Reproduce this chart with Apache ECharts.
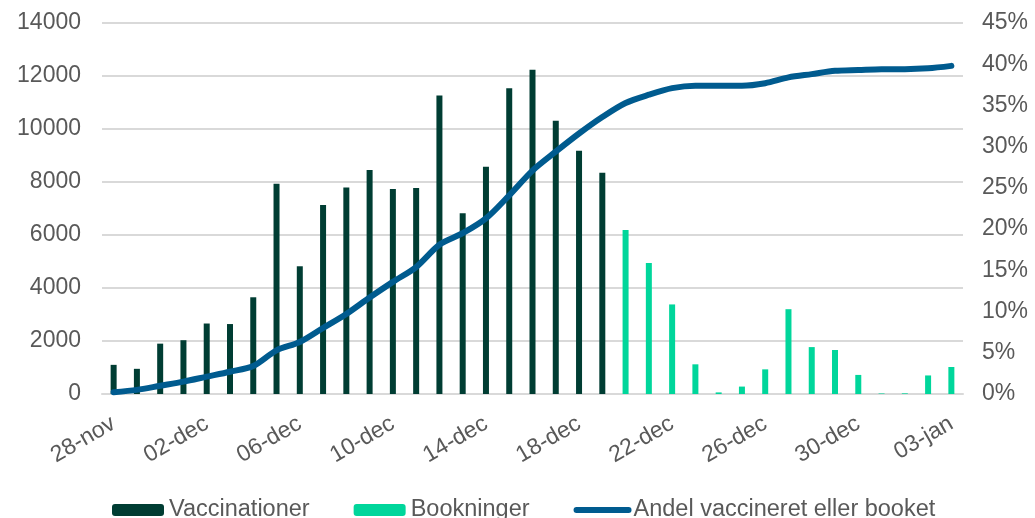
<!DOCTYPE html>
<html>
<head>
    <meta charset="utf-8">
    <title>Vaccinationer</title>
    <script src="https://cdn.jsdelivr.net/npm/echarts@6/dist/echarts.min.js"></script>
</head>
<body style="margin:0">
<div id="main" style="width:1035px;height:518px;"></div>
<script type="text/javascript">
    // dates 28-nov .. 03-jan
    var dates = ['28-nov', '29-nov', '30-nov', '01-dec', '02-dec', '03-dec', '04-dec', '05-dec', '06-dec', '07-dec',
        '08-dec', '09-dec', '10-dec', '11-dec', '12-dec', '13-dec', '14-dec', '15-dec', '16-dec', '17-dec',
        '18-dec', '19-dec', '20-dec', '21-dec', '22-dec', '23-dec', '24-dec', '25-dec', '26-dec', '27-dec',
        '28-dec', '29-dec', '30-dec', '31-dec', '01-jan', '02-jan', '03-jan']

    var vaccinationer = [1100, 950, 1900, 2030, 2660, 2640, 3650, 7930, 4820, 7130,
        7790, 8450, 7740, 7770, 11260, 6820, 8580, 11540, 12240, 10310,
        9180, 8350, null, null, null, null, null, null, null, null,
        null, null, null, null, null, null, null]

    var bookninger = [null, null, null, null, null, null, null, null, null, null,
        null, null, null, null, null, null, null, null, null, null,
        null, null, 6190, 4940, 3380, 1120, 60, 280, 930, 3200,
        1770, 1660, 720, 20, 25, 700, 1020]

    // percent
    var andel = [0.2, 0.5, 1.0, 1.5, 2.1, 2.7, 3.4, 5.3, 6.3, 8.0,
        9.7, 11.7, 13.6, 15.4, 18.1, 19.5, 21.3, 24.1, 27.1, 29.4,
        31.6, 33.6, 35.3, 36.3, 37.1, 37.4, 37.4, 37.4, 37.7, 38.4,
        38.8, 39.2, 39.3, 39.4, 39.4, 39.5, 39.8]

    var txt = '#595959'
    var font = 'Liberation Sans'

    var myChart = echarts.init(document.getElementById('main'));
    var option = {
        animation: false,
        textStyle: {fontFamily: font},
        grid: {left: 102, right: 72, top: 23, bottom: 124},
        legend: {
            top: 493,
            left: 107,
            itemWidth: 52,
            itemHeight: 12,
            itemGap: 44,
            textStyle: {fontSize: 23.5, color: txt, fontFamily: font},
            data: ['Vaccinationer', 'Bookninger', {
                name: 'Andel vaccineret eller booket',
                itemStyle: {opacity: 0},
                lineStyle: {width: 6, cap: 'round'}
            }]
        },
        xAxis: {
            type: 'category',
            data: dates,
            boundaryGap: true,
            axisTick: {show: false},
            axisLine: {lineStyle: {color: '#d9d9d9', width: 2}},
            axisLabel: {
                interval: 3,
                rotate: 30,
                fontSize: 23,
                color: txt,
                margin: 28
            }
        },
        yAxis: [{
            type: 'value',
            min: 0,
            max: 14000,
            interval: 2000,
            axisLabel: {fontSize: 23, color: txt, margin: 21, formatter: function (v) { return String(v) }},
            splitLine: {lineStyle: {color: '#d9d9d9', width: 2}}
        }, {
            type: 'value',
            min: 0,
            max: 45,
            interval: 5,
            axisLabel: {fontSize: 23, color: txt, margin: 19, formatter: '{value}%'},
            splitLine: {show: false}
        }],
        series: [{
            name: 'Vaccinationer',
            type: 'bar',
            data: vaccinationer,
            barWidth: 6,
            barGap: '-100%',
            itemStyle: {color: '#003d33'}
        }, {
            name: 'Bookninger',
            type: 'bar',
            data: bookninger,
            barWidth: 6,
            barGap: '-100%',
            itemStyle: {color: '#00d69b'}
        }, {
            name: 'Andel vaccineret eller booket',
            type: 'line',
            yAxisIndex: 1,
            data: andel,
            smooth: 0.3,
            symbol: 'none',
            lineStyle: {color: '#005b8f', width: 6, cap: 'round'},
            itemStyle: {color: '#005b8f'}
        }]
    };
    myChart.setOption(option);
</script>
</body>
</html>
